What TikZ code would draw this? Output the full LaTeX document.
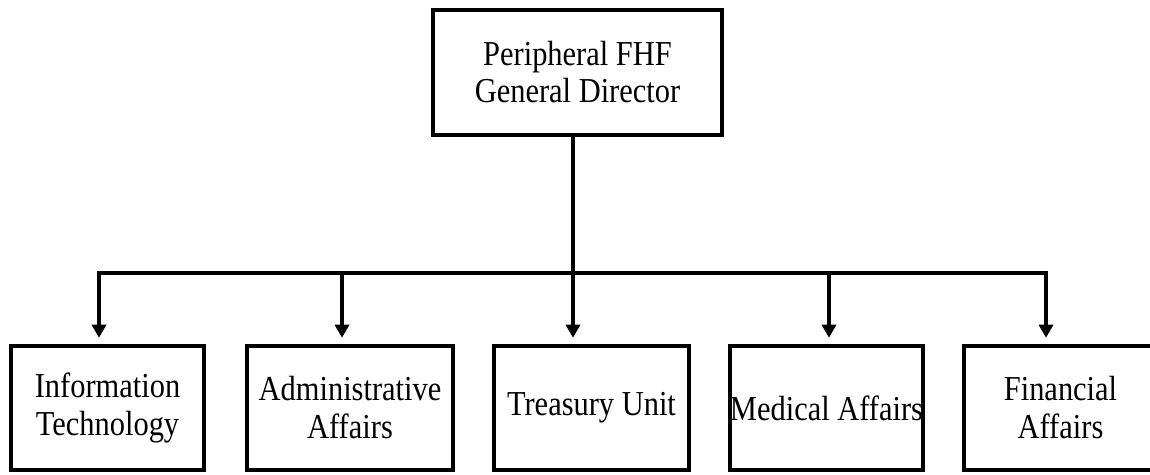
\documentclass[tikz,border=0pt]{standalone}
\usepackage{fontspec}
\setmainfont{Liberation Serif}[FakeStretch=0.87]
\usetikzlibrary{arrows.meta,positioning}

\begin{document}
\begin{tikzpicture}[x=1pt, y=1pt,
    unitbox/.style={draw, line width=4.5pt, inner sep=0pt, align=center,
      minimum height=124pt, font=\fontsize{35}{38}\selectfont},
    link/.style={line width=4pt},
    arr/.style={link, -{Triangle[width=14pt,length=13pt]}, shorten >=6pt}]
  \useasboundingbox (0,0) rectangle (1150,474);
  \node[draw, line width=4.5pt, inner sep=0pt, align=center, minimum width=289pt, minimum height=125pt,
    font=\fontsize{35}{37}\selectfont] (gd) at (577.5,401.5) {Peripheral FHF\\General Director};
  \node[unitbox, minimum width=193pt] (it) at (107.5,66) {Information\\Technology};
  \node[unitbox, minimum width=206pt] (aa) at (350,66) {Administrative\\Affairs};
  \node[unitbox, minimum width=195pt] (tu) at (591.5,66) {Treasury Unit};
  \node[unitbox, minimum width=193pt] (ma) at (826.5,66) {Medical Affairs};
  \node[unitbox, minimum width=193pt] (fa) at (1060.5,66) {Financial\\Affairs};
  \coordinate (bus) at (573,201);
  \draw[link] (gd.south -| bus) -- (bus);
  \draw[arr] (bus) -| ([xshift=-8.5pt]it.north);
  \draw[arr] (bus) -| ([xshift=-14.5pt]fa.north);
  \draw[arr] (bus -| 342,0) -- (aa.north -| 342,0);
  \draw[arr] (bus) -- (tu.north -| bus);
  \draw[arr] (bus -| 829,0) -- (ma.north -| 829,0);
\end{tikzpicture}
\end{document}
